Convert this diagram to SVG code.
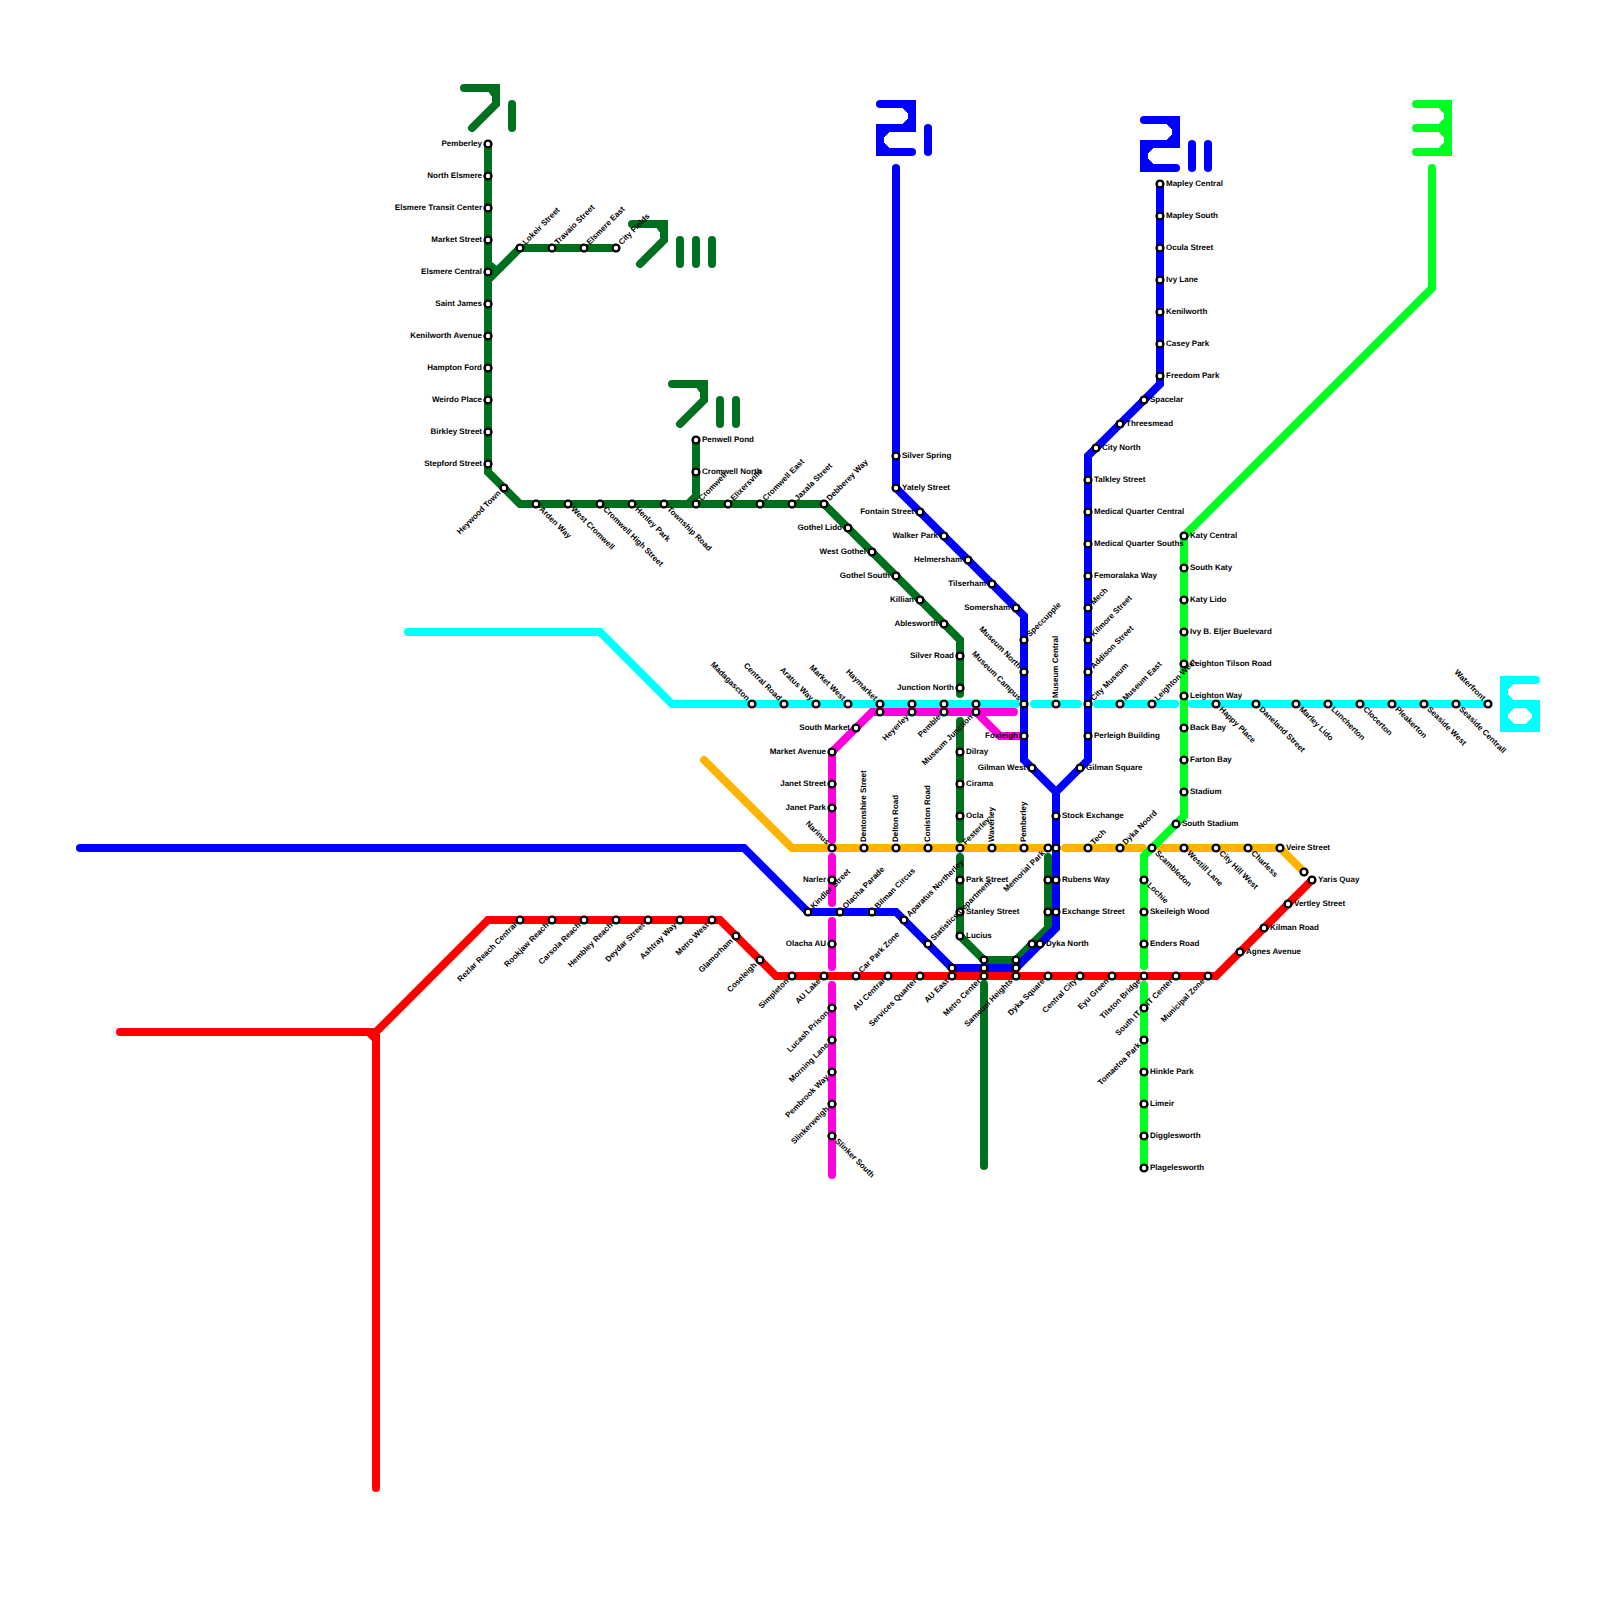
<svg xmlns="http://www.w3.org/2000/svg" width="1600" height="1600" viewBox="0 0 1600 1600">
<style>
.l{fill:none;stroke-width:8;stroke-linecap:round;stroke-linejoin:miter;stroke-miterlimit:10}
.dg{stroke:#00701f}.dgf{fill:#00701f}
.bl{stroke:#0000ff}.blf{fill:#0000ff}
.re{stroke:#ff0000}.ref{fill:#ff0000}
.cy{stroke:#00ffff}.cyf{fill:#00ffff}
.ma{stroke:#ff00dc}
.go{stroke:#ffb400}
.lg{stroke:#00ff22}.lgf{fill:#00ff22}
circle{fill:#fff;stroke:#000;stroke-width:2.4;r:3.4px}
text{font-family:"Liberation Sans",Arial,sans-serif;font-size:8px;font-weight:700;fill:#000;text-rendering:geometricPrecision}
.e{text-anchor:end}
</style>
<defs>
<g id="seven"><path class="l" d="M0 0H32V16L8 40"/><polygon points="25,4 28,4 28,8"/></g>
<g id="two"><path class="l" d="M0 0H32V24H0V48H32"/><polygon points="23,4 28,4 28,9"/><polygon points="28,15 28,20 23,20"/><polygon points="4,28 9,28 4,33"/><polygon points="4,39 4,44 9,44"/></g>
<g id="three"><path class="l" d="M0 0H32V48H0M0 24H32"/><polygon points="23,4 28,4 28,9"/><polygon points="28,15 28,20 23,20"/><polygon points="23,28 28,28 28,33"/><polygon points="28,39 28,44 23,44"/></g>
<g id="six"><path class="l" d="M32 0H0V48H32V24H0"/><polygon points="4,4 9,4 4,9"/><polygon points="4,15 4,20 9,20"/><polygon points="4,28 10,28 4,34"/><polygon points="28,28 22,28 28,34"/><polygon points="4,44 10,44 4,38"/><polygon points="28,44 22,44 28,38"/></g>
</defs>
<g id="line-labels">
<g id="label-7i" class="dg dgf"><use href="#seven" x="464" y="88"/><path class="l" d="M512 104V128"/></g>
<g id="label-7ii" class="dg dgf"><use href="#seven" x="672" y="384"/><path class="l" d="M720 400V424M736 400V424"/></g>
<g id="label-7iii" class="dg dgf"><use href="#seven" x="632" y="224"/><path class="l" d="M680 240V264M696 240V264M712 240V264"/></g>
<g id="label-2i" class="bl blf"><use href="#two" x="880" y="104"/><path class="l" d="M928 128V152"/></g>
<g id="label-2ii" class="bl blf"><use href="#two" x="1144" y="120"/><path class="l" d="M1192 144V168M1208 144V168"/></g>
<g id="label-3" class="lg lgf"><use href="#three" x="1416" y="104"/></g>
<g id="label-6" class="cy cyf"><use href="#six" x="1504" y="680"/></g>
</g>
<g id="connectors">
<path class="l cy" d="M408 632H600L672 704H1016M1034 704H1078M1097 704H1175M1192 704H1488"/>
<path class="l ma" d="M832 1175V985M832 967V921M832 903V857M832 840V752L872 712H1014M976 712L1000 736H1020"/>
<path class="l go" d="M704 760L792 848H1048M1065 848H1143M1161 848H1280L1304 872"/>
<path class="l dg" d="M488 144V472L520 504H824L960 640V694M960 721V839M960 857V936L984 960H1016L1048 928V857M984 984V1166M488 280L520 248H616M696 440V496L688 504"/>
<polygon class="dgf" points="492,262 492,271 497,266"/>
<path class="l bl" d="M896 168V488L1024 616V760L1056 792V928L1016 968H952L896 912H808L744 848H80M1056 792L1088 760V456L1160 384V184"/>
<path class="l re" d="M120 1032H376V1488"/>
<path class="l re" d="M376 1032L488 920H720L776 976H1216L1312 880"/>
<polygon class="ref" points="367,1036 372,1036 372,1041"/>
<path class="l lg" d="M1432 168V288L1184 536V816L1144 856V966M1144 985V1168"/>
</g>
<g id="nodes">
<g id="pemberley-n"><circle cx="488" cy="144"/><text class="e" transform="translate(488 144)" x="-6" y="2">Pemberley</text></g>
<g id="north-elsmere"><circle cx="488" cy="176"/><text class="e" transform="translate(488 176)" x="-6" y="2">North Elsmere</text></g>
<g id="elsmere-transit-center"><circle cx="488" cy="208"/><text class="e" transform="translate(488 208)" x="-6" y="2">Elsmere Transit Center</text></g>
<g id="market-street"><circle cx="488" cy="240"/><text class="e" transform="translate(488 240)" x="-6" y="2">Market Street</text></g>
<g id="elsmere-central"><circle cx="488" cy="272"/><text class="e" transform="translate(488 272)" x="-6" y="2">Elsmere Central</text></g>
<g id="saint-james"><circle cx="488" cy="304"/><text class="e" transform="translate(488 304)" x="-6" y="2">Saint James</text></g>
<g id="kenilworth-avenue"><circle cx="488" cy="336"/><text class="e" transform="translate(488 336)" x="-6" y="2">Kenilworth Avenue</text></g>
<g id="hampton-ford"><circle cx="488" cy="368"/><text class="e" transform="translate(488 368)" x="-6" y="2">Hampton Ford</text></g>
<g id="weirdo-place"><circle cx="488" cy="400"/><text class="e" transform="translate(488 400)" x="-6" y="2">Weirdo Place</text></g>
<g id="birkley-street"><circle cx="488" cy="432"/><text class="e" transform="translate(488 432)" x="-6" y="2">Birkley Street</text></g>
<g id="stepford-street"><circle cx="488" cy="464"/><text class="e" transform="translate(488 464)" x="-6" y="2">Stepford Street</text></g>
<g id="heywood-town"><circle cx="504" cy="488"/><text class="e" transform="translate(504 488) rotate(-45)" x="-6" y="2">Heywood Town</text></g>
<g id="arden-way"><circle cx="536" cy="504"/><text transform="translate(536 504) rotate(45)" x="6" y="2">Arden Way</text></g>
<g id="west-cromwell"><circle cx="568" cy="504"/><text transform="translate(568 504) rotate(45)" x="6" y="2">West Cromwell</text></g>
<g id="cromwell-high-street"><circle cx="600" cy="504"/><text transform="translate(600 504) rotate(45)" x="6" y="2">Cromwell High Street</text></g>
<g id="henley-park"><circle cx="632" cy="504"/><text transform="translate(632 504) rotate(45)" x="6" y="2">Henley Park</text></g>
<g id="township-road"><circle cx="664" cy="504"/><text transform="translate(664 504) rotate(45)" x="6" y="2">Township Road</text></g>
<g id="cromwell"><circle cx="696" cy="504"/><text transform="translate(696 504) rotate(-45)" x="6" y="2">Cromwell</text></g>
<g id="elixersville"><circle cx="728" cy="504"/><text transform="translate(728 504) rotate(-45)" x="6" y="2">Elixersville</text></g>
<g id="cromwell-east"><circle cx="760" cy="504"/><text transform="translate(760 504) rotate(-45)" x="6" y="2">Cromwell East</text></g>
<g id="jaxala-street"><circle cx="792" cy="504"/><text transform="translate(792 504) rotate(-45)" x="6" y="2">Jaxala Street</text></g>
<g id="debberey-way"><circle cx="824" cy="504"/><text transform="translate(824 504) rotate(-45)" x="6" y="2">Debberey Way</text></g>
<g id="penwell-pond"><circle cx="696" cy="440"/><text transform="translate(696 440)" x="6" y="2">Penwell Pond</text></g>
<g id="cromwell-north"><circle cx="696" cy="472"/><text transform="translate(696 472)" x="6" y="2">Cromwell North</text></g>
<g id="lokeir-street"><circle cx="520" cy="248"/><text transform="translate(520 248) rotate(-45)" x="6" y="2">Lokeir Street</text></g>
<g id="travaio-street"><circle cx="552" cy="248"/><text transform="translate(552 248) rotate(-45)" x="6" y="2">Travaio Street</text></g>
<g id="elsmere-east"><circle cx="584" cy="248"/><text transform="translate(584 248) rotate(-45)" x="6" y="2">Elsmere East</text></g>
<g id="city-fields"><circle cx="616" cy="248"/><text transform="translate(616 248) rotate(-45)" x="6" y="2">City Fields</text></g>
<g id="gothel-lido"><circle cx="848" cy="528"/><text class="e" transform="translate(848 528)" x="-6" y="2">Gothel Lido</text></g>
<g id="west-gothel"><circle cx="872" cy="552"/><text class="e" transform="translate(872 552)" x="-6" y="2">West Gothel</text></g>
<g id="gothel-south"><circle cx="896" cy="576"/><text class="e" transform="translate(896 576)" x="-6" y="2">Gothel South</text></g>
<g id="killian"><circle cx="920" cy="600"/><text class="e" transform="translate(920 600)" x="-6" y="2">Killian</text></g>
<g id="ablesworth"><circle cx="944" cy="624"/><text class="e" transform="translate(944 624)" x="-6" y="2">Ablesworth</text></g>
<g id="silver-road"><circle cx="960" cy="656"/><text class="e" transform="translate(960 656)" x="-6" y="2">Silver Road</text></g>
<g id="junction-north"><circle cx="960" cy="688"/><text class="e" transform="translate(960 688)" x="-6" y="2">Junction North</text></g>
<g id="dilray"><circle cx="960" cy="752"/><text transform="translate(960 752)" x="6" y="2">Dilray</text></g>
<g id="cirama"><circle cx="960" cy="784"/><text transform="translate(960 784)" x="6" y="2">Cirama</text></g>
<g id="ocla"><circle cx="960" cy="816"/><text transform="translate(960 816)" x="6" y="2">Ocla</text></g>
<g id="festerley"><circle cx="960" cy="848"/><text transform="translate(960 848) rotate(-45)" x="6" y="2">Festerley</text></g>
<g id="park-street"><circle cx="960" cy="880"/><text transform="translate(960 880)" x="6" y="2">Park Street</text></g>
<g id="stanley-street"><circle cx="960" cy="912"/><text transform="translate(960 912)" x="6" y="2">Stanley Street</text></g>
<g id="lucius"><circle cx="960" cy="936"/><text transform="translate(960 936)" x="6" y="2">Lucius</text></g>
<g id="madagascton"><circle cx="752" cy="704"/><text class="e" transform="translate(752 704) rotate(45)" x="-6" y="2">Madagascton</text></g>
<g id="central-road"><circle cx="784" cy="704"/><text class="e" transform="translate(784 704) rotate(45)" x="-6" y="2">Central Road</text></g>
<g id="aratus-way"><circle cx="816" cy="704"/><text class="e" transform="translate(816 704) rotate(45)" x="-6" y="2">Aratus Way</text></g>
<g id="market-west"><circle cx="848" cy="704"/><text class="e" transform="translate(848 704) rotate(45)" x="-6" y="2">Market West</text></g>
<g id="haymarket"><circle cx="880" cy="704"/><text class="e" transform="translate(880 704) rotate(45)" x="-6" y="2">Haymarket</text></g>
<g id="x880-712"><circle cx="880" cy="712"/></g>
<g id="x912-704"><circle cx="912" cy="704"/></g>
<g id="heyerley"><circle cx="912" cy="712"/><text class="e" transform="translate(912 712) rotate(-45)" x="-6" y="2">Heyerley</text></g>
<g id="x944-704"><circle cx="944" cy="704"/></g>
<g id="pemble"><circle cx="944" cy="712"/><text class="e" transform="translate(944 712) rotate(-45)" x="-6" y="2">Pemble</text></g>
<g id="x976-704"><circle cx="976" cy="704"/></g>
<g id="museum-junction"><circle cx="976" cy="712"/><text class="e" transform="translate(976 712) rotate(-45)" x="-6" y="2">Museum Junction</text></g>
<g id="museum-campus"><circle cx="1024" cy="704"/><text class="e" transform="translate(1024 704) rotate(45)" x="-6" y="2">Museum Campus</text></g>
<g id="museum-central"><circle cx="1056" cy="704"/><text transform="translate(1056 704) rotate(-90)" x="6" y="2">Museum Central</text></g>
<g id="city-museum"><circle cx="1088" cy="704"/><text transform="translate(1088 704) rotate(-45)" x="6" y="2">City Museum</text></g>
<g id="museum-east"><circle cx="1120" cy="704"/><text transform="translate(1120 704) rotate(-45)" x="6" y="2">Museum East</text></g>
<g id="leighton-west"><circle cx="1152" cy="704"/><text transform="translate(1152 704) rotate(-45)" x="6" y="2">Leighton West</text></g>
<g id="happy-place"><circle cx="1216" cy="704"/><text transform="translate(1216 704) rotate(45)" x="6" y="2">Happy Place</text></g>
<g id="daneland-street"><circle cx="1256" cy="704"/><text transform="translate(1256 704) rotate(45)" x="6" y="2">Daneland Street</text></g>
<g id="marley-lido"><circle cx="1296" cy="704"/><text transform="translate(1296 704) rotate(45)" x="6" y="2">Marley Lido</text></g>
<g id="luncherton"><circle cx="1328" cy="704"/><text transform="translate(1328 704) rotate(45)" x="6" y="2">Luncherton</text></g>
<g id="clocerton"><circle cx="1360" cy="704"/><text transform="translate(1360 704) rotate(45)" x="6" y="2">Clocerton</text></g>
<g id="pleakerton"><circle cx="1392" cy="704"/><text transform="translate(1392 704) rotate(45)" x="6" y="2">Pleakerton</text></g>
<g id="seaside-west"><circle cx="1424" cy="704"/><text transform="translate(1424 704) rotate(45)" x="6" y="2">Seaside West</text></g>
<g id="seaside-centrall"><circle cx="1456" cy="704"/><text transform="translate(1456 704) rotate(45)" x="6" y="2">Seaside Centrall</text></g>
<g id="waterfront"><circle cx="1488" cy="704"/><text class="e" transform="translate(1488 704) rotate(45)" x="-6" y="2">Waterfront</text></g>
<g id="south-market"><circle cx="856" cy="728"/><text class="e" transform="translate(856 728)" x="-6" y="2">South Market</text></g>
<g id="market-avenue"><circle cx="832" cy="752"/><text class="e" transform="translate(832 752)" x="-6" y="2">Market Avenue</text></g>
<g id="janet-street"><circle cx="832" cy="784"/><text class="e" transform="translate(832 784)" x="-6" y="2">Janet Street</text></g>
<g id="janet-park"><circle cx="832" cy="808"/><text class="e" transform="translate(832 808)" x="-6" y="2">Janet Park</text></g>
<g id="narinus"><circle cx="832" cy="848"/><text class="e" transform="translate(832 848) rotate(45)" x="-6" y="2">Narinus</text></g>
<g id="narler"><circle cx="832" cy="880"/><text class="e" transform="translate(832 880)" x="-6" y="2">Narler</text></g>
<g id="olacha-au"><circle cx="832" cy="944"/><text class="e" transform="translate(832 944)" x="-6" y="2">Olacha AU</text></g>
<g id="lucash-prison"><circle cx="832" cy="1008"/><text class="e" transform="translate(832 1008) rotate(-45)" x="-6" y="2">Lucash Prison</text></g>
<g id="morning-lane"><circle cx="832" cy="1040"/><text class="e" transform="translate(832 1040) rotate(-45)" x="-6" y="2">Morning Lane</text></g>
<g id="pembrook-way"><circle cx="832" cy="1072"/><text class="e" transform="translate(832 1072) rotate(-45)" x="-6" y="2">Pembrook Way</text></g>
<g id="slinkerweigh"><circle cx="832" cy="1104"/><text class="e" transform="translate(832 1104) rotate(-45)" x="-6" y="2">Slinkerweigh</text></g>
<g id="slinker-south"><circle cx="832" cy="1136"/><text transform="translate(832 1136) rotate(45)" x="6" y="2">Slinker South</text></g>
<g id="foxleigh"><circle cx="1024" cy="736"/><text class="e" transform="translate(1024 736)" x="-6" y="2">Foxleigh</text></g>
<g id="dentonshire-street"><circle cx="864" cy="848"/><text transform="translate(864 848) rotate(-90)" x="6" y="2">Dentonshire Street</text></g>
<g id="delton-road"><circle cx="896" cy="848"/><text transform="translate(896 848) rotate(-90)" x="6" y="2">Delton Road</text></g>
<g id="coniston-road"><circle cx="928" cy="848"/><text transform="translate(928 848) rotate(-90)" x="6" y="2">Coniston Road</text></g>
<g id="waverley"><circle cx="992" cy="848"/><text transform="translate(992 848) rotate(-90)" x="6" y="2">Waverley</text></g>
<g id="pemberley-s"><circle cx="1024" cy="848"/><text transform="translate(1024 848) rotate(-90)" x="6" y="2">Pemberley</text></g>
<g id="memorial-park"><circle cx="1048" cy="848"/><text class="e" transform="translate(1048 848) rotate(-45)" x="-6" y="2">Memorial Park</text></g>
<g id="x1056-848"><circle cx="1056" cy="848"/></g>
<g id="tech"><circle cx="1088" cy="848"/><text transform="translate(1088 848) rotate(-45)" x="6" y="2">Tech</text></g>
<g id="dyka-noord"><circle cx="1120" cy="848"/><text transform="translate(1120 848) rotate(-45)" x="6" y="2">Dyka Noord</text></g>
<g id="scambledon"><circle cx="1152" cy="848"/><text transform="translate(1152 848) rotate(45)" x="6" y="2">Scambledon</text></g>
<g id="westill-lane"><circle cx="1184" cy="848"/><text transform="translate(1184 848) rotate(45)" x="6" y="2">Westill Lane</text></g>
<g id="city-hill-west"><circle cx="1216" cy="848"/><text transform="translate(1216 848) rotate(45)" x="6" y="2">City Hill West</text></g>
<g id="charless"><circle cx="1248" cy="848"/><text transform="translate(1248 848) rotate(45)" x="6" y="2">Charless</text></g>
<g id="veire-street"><circle cx="1280" cy="848"/><text transform="translate(1280 848)" x="6" y="2">Veire Street</text></g>
<g id="x1304-872"><circle cx="1304" cy="872"/></g>
<g id="yaris-quay"><circle cx="1312" cy="880"/><text transform="translate(1312 880)" x="6" y="2">Yaris Quay</text></g>
<g id="vertley-street"><circle cx="1288" cy="904"/><text transform="translate(1288 904)" x="6" y="2">Vertley Street</text></g>
<g id="kilman-road"><circle cx="1264" cy="928"/><text transform="translate(1264 928)" x="6" y="2">Kilman Road</text></g>
<g id="agnes-avenue"><circle cx="1240" cy="952"/><text transform="translate(1240 952)" x="6" y="2">Agnes Avenue</text></g>
<g id="silver-spring"><circle cx="896" cy="456"/><text transform="translate(896 456)" x="6" y="2">Silver Spring</text></g>
<g id="yately-street"><circle cx="896" cy="488"/><text transform="translate(896 488)" x="6" y="2">Yately Street</text></g>
<g id="fontain-street"><circle cx="920" cy="512"/><text class="e" transform="translate(920 512)" x="-6" y="2">Fontain Street</text></g>
<g id="walker-park"><circle cx="944" cy="536"/><text class="e" transform="translate(944 536)" x="-6" y="2">Walker Park</text></g>
<g id="helmersham"><circle cx="968" cy="560"/><text class="e" transform="translate(968 560)" x="-6" y="2">Helmersham</text></g>
<g id="tilserham"><circle cx="992" cy="584"/><text class="e" transform="translate(992 584)" x="-6" y="2">Tilserham</text></g>
<g id="somersham"><circle cx="1016" cy="608"/><text class="e" transform="translate(1016 608)" x="-6" y="2">Somersham</text></g>
<g id="speccupple"><circle cx="1024" cy="640"/><text transform="translate(1024 640) rotate(-45)" x="6" y="2">Speccupple</text></g>
<g id="museum-north"><circle cx="1024" cy="672"/><text class="e" transform="translate(1024 672) rotate(45)" x="-6" y="2">Museum North</text></g>
<g id="gilman-west"><circle cx="1032" cy="768"/><text class="e" transform="translate(1032 768)" x="-6" y="2">Gilman West</text></g>
<g id="stock-exchange"><circle cx="1056" cy="816"/><text transform="translate(1056 816)" x="6" y="2">Stock Exchange</text></g>
<g id="x1048-880"><circle cx="1048" cy="880"/></g>
<g id="rubens-way"><circle cx="1056" cy="880"/><text transform="translate(1056 880)" x="6" y="2">Rubens Way</text></g>
<g id="x1048-912"><circle cx="1048" cy="912"/></g>
<g id="exchange-street"><circle cx="1056" cy="912"/><text transform="translate(1056 912)" x="6" y="2">Exchange Street</text></g>
<g id="x1032-944"><circle cx="1032" cy="944"/></g>
<g id="dyka-north"><circle cx="1040" cy="944"/><text transform="translate(1040 944)" x="6" y="2">Dyka North</text></g>
<g id="x1016-960"><circle cx="1016" cy="960"/></g>
<g id="x1016-968"><circle cx="1016" cy="968"/></g>
<g id="sameuel-heights"><circle cx="1016" cy="976"/><text class="e" transform="translate(1016 976) rotate(-45)" x="-6" y="2">Sameuel Heights</text></g>
<g id="x984-960"><circle cx="984" cy="960"/></g>
<g id="x984-968"><circle cx="984" cy="968"/></g>
<g id="metro-center"><circle cx="984" cy="976"/><text class="e" transform="translate(984 976) rotate(-45)" x="-6" y="2">Metro Center</text></g>
<g id="x952-968"><circle cx="952" cy="968"/></g>
<g id="au-east"><circle cx="952" cy="976"/><text class="e" transform="translate(952 976) rotate(-45)" x="-6" y="2">AU East</text></g>
<g id="statistics-department"><circle cx="928" cy="944"/><text transform="translate(928 944) rotate(-45)" x="6" y="2">Statistics Department</text></g>
<g id="aparatus-northerley"><circle cx="904" cy="920"/><text transform="translate(904 920) rotate(-45)" x="6" y="2">Aparatus Northerley</text></g>
<g id="bilman-circus"><circle cx="872" cy="912"/><text transform="translate(872 912) rotate(-45)" x="6" y="2">Bilman Circus</text></g>
<g id="olacha-parade"><circle cx="840" cy="912"/><text transform="translate(840 912) rotate(-45)" x="6" y="2">Olacha Parade</text></g>
<g id="kindler-street"><circle cx="808" cy="912"/><text transform="translate(808 912) rotate(-45)" x="6" y="2">Kindler Street</text></g>
<g id="gilman-square"><circle cx="1080" cy="768"/><text transform="translate(1080 768)" x="6" y="2">Gilman Square</text></g>
<g id="perleigh-building"><circle cx="1088" cy="736"/><text transform="translate(1088 736)" x="6" y="2">Perleigh Building</text></g>
<g id="addison-street"><circle cx="1088" cy="672"/><text transform="translate(1088 672) rotate(-45)" x="6" y="2">Addison Street</text></g>
<g id="kilmore-street"><circle cx="1088" cy="640"/><text transform="translate(1088 640) rotate(-45)" x="6" y="2">Kilmore Street</text></g>
<g id="mech"><circle cx="1088" cy="608"/><text transform="translate(1088 608) rotate(-45)" x="6" y="2">Mech</text></g>
<g id="femoralaka-way"><circle cx="1088" cy="576"/><text transform="translate(1088 576)" x="6" y="2">Femoralaka Way</text></g>
<g id="medical-quarter-souths"><circle cx="1088" cy="544"/><text transform="translate(1088 544)" x="6" y="2">Medical Quarter Souths</text></g>
<g id="medical-quarter-central"><circle cx="1088" cy="512"/><text transform="translate(1088 512)" x="6" y="2">Medical Quarter Central</text></g>
<g id="talkley-street"><circle cx="1088" cy="480"/><text transform="translate(1088 480)" x="6" y="2">Talkley Street</text></g>
<g id="city-north"><circle cx="1096" cy="448"/><text transform="translate(1096 448)" x="6" y="2">City North</text></g>
<g id="threesmead"><circle cx="1120" cy="424"/><text transform="translate(1120 424)" x="6" y="2">Threesmead</text></g>
<g id="spacelar"><circle cx="1144" cy="400"/><text transform="translate(1144 400)" x="6" y="2">Spacelar</text></g>
<g id="freedom-park"><circle cx="1160" cy="376"/><text transform="translate(1160 376)" x="6" y="2">Freedom Park</text></g>
<g id="casey-park"><circle cx="1160" cy="344"/><text transform="translate(1160 344)" x="6" y="2">Casey Park</text></g>
<g id="kenilworth"><circle cx="1160" cy="312"/><text transform="translate(1160 312)" x="6" y="2">Kenilworth</text></g>
<g id="ivy-lane"><circle cx="1160" cy="280"/><text transform="translate(1160 280)" x="6" y="2">Ivy Lane</text></g>
<g id="ocula-street"><circle cx="1160" cy="248"/><text transform="translate(1160 248)" x="6" y="2">Ocula Street</text></g>
<g id="mapley-south"><circle cx="1160" cy="216"/><text transform="translate(1160 216)" x="6" y="2">Mapley South</text></g>
<g id="mapley-central"><circle cx="1160" cy="184"/><text transform="translate(1160 184)" x="6" y="2">Mapley Central</text></g>
<g id="katy-central"><circle cx="1184" cy="536"/><text transform="translate(1184 536)" x="6" y="2">Katy Central</text></g>
<g id="south-katy"><circle cx="1184" cy="568"/><text transform="translate(1184 568)" x="6" y="2">South Katy</text></g>
<g id="katy-lido"><circle cx="1184" cy="600"/><text transform="translate(1184 600)" x="6" y="2">Katy Lido</text></g>
<g id="ivy-b-eljer-buelevard"><circle cx="1184" cy="632"/><text transform="translate(1184 632)" x="6" y="2">Ivy B. Eljer Buelevard</text></g>
<g id="leighton-tilson-road"><circle cx="1184" cy="664"/><text transform="translate(1184 664)" x="6" y="2">Leighton Tilson Road</text></g>
<g id="leighton-way"><circle cx="1184" cy="696"/><text transform="translate(1184 696)" x="6" y="2">Leighton Way</text></g>
<g id="back-bay"><circle cx="1184" cy="728"/><text transform="translate(1184 728)" x="6" y="2">Back Bay</text></g>
<g id="farton-bay"><circle cx="1184" cy="760"/><text transform="translate(1184 760)" x="6" y="2">Farton Bay</text></g>
<g id="stadium"><circle cx="1184" cy="792"/><text transform="translate(1184 792)" x="6" y="2">Stadium</text></g>
<g id="south-stadium"><circle cx="1176" cy="824"/><text transform="translate(1176 824)" x="6" y="2">South Stadium</text></g>
<g id="lochie"><circle cx="1144" cy="880"/><text transform="translate(1144 880) rotate(45)" x="6" y="2">Lochie</text></g>
<g id="skeileigh-wood"><circle cx="1144" cy="912"/><text transform="translate(1144 912)" x="6" y="2">Skeileigh Wood</text></g>
<g id="enders-road"><circle cx="1144" cy="944"/><text transform="translate(1144 944)" x="6" y="2">Enders Road</text></g>
<g id="tilston-bridge"><circle cx="1144" cy="976"/><text class="e" transform="translate(1144 976) rotate(-45)" x="-6" y="2">Tilston Bridge</text></g>
<g id="south-it"><circle cx="1144" cy="1008"/><text class="e" transform="translate(1144 1008) rotate(-45)" x="-6" y="2">South IT</text></g>
<g id="tomaetoa-park"><circle cx="1144" cy="1040"/><text class="e" transform="translate(1144 1040) rotate(-45)" x="-6" y="2">Tomaetoa Park</text></g>
<g id="hinkle-park"><circle cx="1144" cy="1072"/><text transform="translate(1144 1072)" x="6" y="2">Hinkle Park</text></g>
<g id="limeir"><circle cx="1144" cy="1104"/><text transform="translate(1144 1104)" x="6" y="2">Limeir</text></g>
<g id="digglesworth"><circle cx="1144" cy="1136"/><text transform="translate(1144 1136)" x="6" y="2">Digglesworth</text></g>
<g id="plagelesworth"><circle cx="1144" cy="1168"/><text transform="translate(1144 1168)" x="6" y="2">Plagelesworth</text></g>
<g id="rezlar-reach-central"><circle cx="520" cy="920"/><text class="e" transform="translate(520 920) rotate(-45)" x="-6" y="2">Rezlar Reach Central</text></g>
<g id="rookjaw-reach"><circle cx="552" cy="920"/><text class="e" transform="translate(552 920) rotate(-45)" x="-6" y="2">Rookjaw Reach</text></g>
<g id="carsola-reach"><circle cx="584" cy="920"/><text class="e" transform="translate(584 920) rotate(-45)" x="-6" y="2">Carsola Reach</text></g>
<g id="hembley-reach"><circle cx="616" cy="920"/><text class="e" transform="translate(616 920) rotate(-45)" x="-6" y="2">Hembley Reach</text></g>
<g id="deydar-street"><circle cx="648" cy="920"/><text class="e" transform="translate(648 920) rotate(-45)" x="-6" y="2">Deydar Street</text></g>
<g id="ashtray-way"><circle cx="680" cy="920"/><text class="e" transform="translate(680 920) rotate(-45)" x="-6" y="2">Ashtray Way</text></g>
<g id="metro-west"><circle cx="712" cy="920"/><text class="e" transform="translate(712 920) rotate(-45)" x="-6" y="2">Metro West</text></g>
<g id="glamorham"><circle cx="736" cy="936"/><text class="e" transform="translate(736 936) rotate(-45)" x="-6" y="2">Glamorham</text></g>
<g id="coseleigh"><circle cx="760" cy="960"/><text class="e" transform="translate(760 960) rotate(-45)" x="-6" y="2">Coseleigh</text></g>
<g id="simpleton"><circle cx="792" cy="976"/><text class="e" transform="translate(792 976) rotate(-45)" x="-6" y="2">Simpleton</text></g>
<g id="au-lake"><circle cx="824" cy="976"/><text class="e" transform="translate(824 976) rotate(-45)" x="-6" y="2">AU Lake</text></g>
<g id="car-park-zone"><circle cx="856" cy="976"/><text transform="translate(856 976) rotate(-45)" x="6" y="2">Car Park Zone</text></g>
<g id="au-central"><circle cx="888" cy="976"/><text class="e" transform="translate(888 976) rotate(-45)" x="-6" y="2">AU Central</text></g>
<g id="services-quarter"><circle cx="920" cy="976"/><text class="e" transform="translate(920 976) rotate(-45)" x="-6" y="2">Services Quarter</text></g>
<g id="dyka-square"><circle cx="1048" cy="976"/><text class="e" transform="translate(1048 976) rotate(-45)" x="-6" y="2">Dyka Square</text></g>
<g id="central-city"><circle cx="1080" cy="976"/><text class="e" transform="translate(1080 976) rotate(-45)" x="-6" y="2">Central City</text></g>
<g id="eyu-green"><circle cx="1112" cy="976"/><text class="e" transform="translate(1112 976) rotate(-45)" x="-6" y="2">Eyu Green</text></g>
<g id="it-center"><circle cx="1176" cy="976"/><text class="e" transform="translate(1176 976) rotate(-45)" x="-6" y="2">IT Center</text></g>
<g id="municipal-zone"><circle cx="1208" cy="976"/><text class="e" transform="translate(1208 976) rotate(-45)" x="-6" y="2">Municipal Zone</text></g>
</g>
</svg>
